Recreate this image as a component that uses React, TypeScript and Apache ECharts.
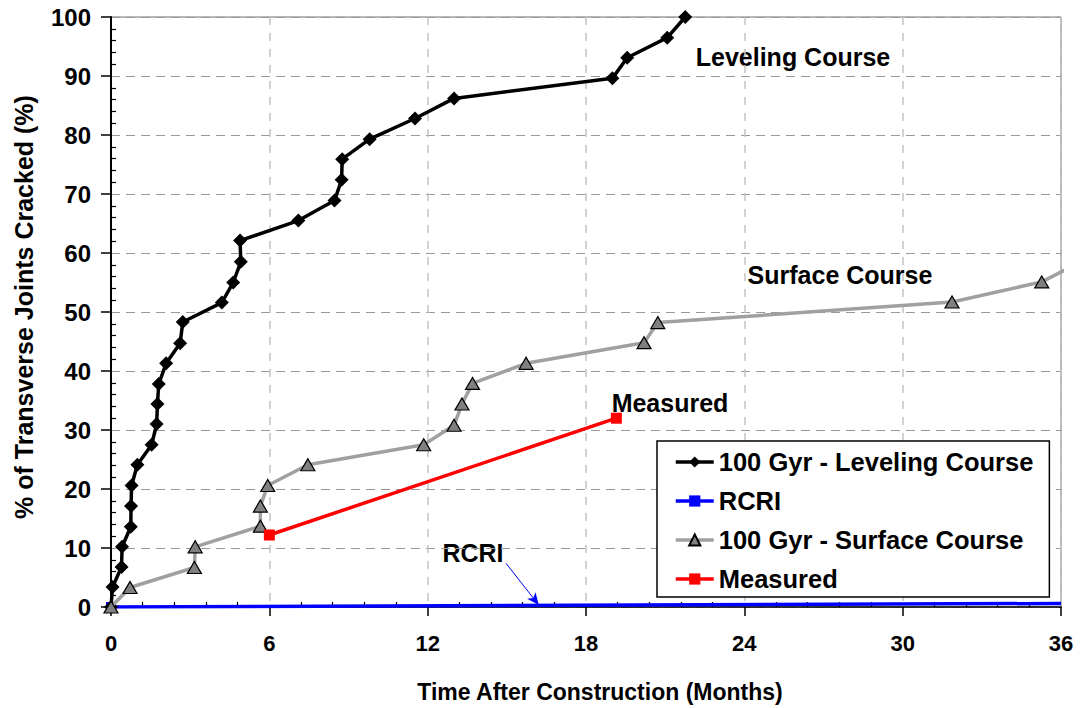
import React, { useEffect, useRef } from "react";
import * as echarts from "echarts";

// ---- data (months, % cracked) ----
const levelingX = [0, 0.06, 0.4, 0.42, 0.75, 0.76, 0.78, 1.0, 1.54, 1.73, 1.76, 1.81, 2.09, 2.62, 2.72, 4.2, 4.63, 4.92, 4.89, 7.1, 8.47, 8.74, 8.76, 9.8, 11.52, 13.0, 19.0, 19.56, 21.08, 21.76];
const levelingY = [0, 3.4, 6.8, 10.2, 13.6, 17.1, 20.6, 24.1, 27.5, 31.0, 34.4, 37.8, 41.3, 44.7, 48.3, 51.6, 55.0, 58.5, 62.1, 65.5, 68.9, 72.4, 75.9, 79.3, 82.8, 86.2, 89.6, 93.1, 96.5, 100];

const surfaceX = [0, 0.72, 3.16, 3.19, 5.66, 5.66, 5.94, 7.46, 11.85, 13.0, 13.3, 13.7, 15.73, 20.2, 20.72, 31.87, 35.27, 36.8];
const surfaceY = [0, 3.3, 6.7, 10.2, 13.7, 17.1, 20.6, 24.1, 27.5, 30.8, 34.4, 37.9, 41.3, 44.8, 48.2, 51.7, 55.1, 58.6];

const measuredX = [6, 19.15];
const measuredY = [12.2, 32.0];

const rcriX = [0, 36];
const rcriY = [0, 0.6];

// annotation arrow for RCRI (data coordinates)
const rcriArrowFrom = [14.97, 7.4];
const rcriArrowTo = [16.21, 0.34];

const seriesNames = ["100 Gyr - Leveling Course", "RCRI", "100 Gyr - Surface Course", "Measured"];

const xMin = 0, xMax = 36, xStep = 6;
const yMin = 0, yMax = 100, yStep = 10;

const zip = (xs: number[], ys: number[]) => xs.map((x, i) => [x, ys[i]]);

const FONT = "'Liberation Sans', Arial, sans-serif";

export default function App() {
  const ref = useRef<HTMLDivElement>(null);
  useEffect(() => {
    if (!ref.current) return;
    const chart = echarts.init(ref.current, null, { renderer: "svg" });
    const left = 111, top = 17, right = 19, bottom = 101;
    const option: any = {
      animation: false,
      backgroundColor: "#ffffff",
      grid: {
        left, top, right, bottom,
        show: true,
        borderColor: "#707070",
        borderWidth: 1,
        backgroundColor: "transparent",
      },
      xAxis: [
        {
          type: "value",
          position: "bottom",
          min: xMin, max: xMax, interval: xStep,
          axisLine: { show: true, onZero: false, lineStyle: { color: "#000", width: 1.5 } },
          axisTick: { show: true, inside: false, length: 9, lineStyle: { color: "#000", width: 1.5 } },
          axisLabel: { margin: 25, color: "#000", fontSize: 22, fontWeight: "bold", fontFamily: FONT },
          splitLine: { show: true, lineStyle: { color: "#c4c4c4", type: [8, 8], width: 1.5 } },
        },
        {
          type: "value",
          position: "bottom",
          min: xMin, max: xMax, interval: xStep,
          axisLine: { show: false, onZero: false },
          axisTick: { show: false, inside: true },
          minorTick: { show: true, splitNumber: 5, length: 5, lineStyle: { color: "#000", width: 1.2 } },
          axisLabel: { show: false },
          splitLine: { show: false },
        },
      ],
      yAxis: [
        {
          type: "value",
          position: "left",
          min: yMin, max: yMax, interval: yStep,
          axisLine: { show: true, onZero: false, lineStyle: { color: "#000", width: 2 } },
          axisTick: { show: true, inside: false, length: 10, lineStyle: { color: "#000", width: 1.5 } },
          axisLabel: { margin: 20, color: "#000", fontSize: 24, fontWeight: "bold", fontFamily: FONT },
          splitLine: { show: true, lineStyle: { color: "#999999", type: [9, 6], width: 1.2 } },
        },
        {
          type: "value",
          position: "left",
          min: yMin, max: yMax, interval: yStep,
          axisLine: { show: false, onZero: false },
          axisTick: { show: false, inside: true },
          minorTick: { show: true, splitNumber: 5, length: 5, lineStyle: { color: "#000", width: 1.2 } },
          axisLabel: { show: false },
          splitLine: { show: false },
        },
      ],
      legend: {
        orient: "vertical",
        left: 657,
        top: 441,
        padding: [8, 16, 5, 17],
        itemGap: 13,
        itemWidth: 38,
        itemHeight: 14,
        backgroundColor: "#ffffff",
        borderColor: "#000",
        borderWidth: 1.5,
        borderRadius: 0,
        data: seriesNames,
        lineStyle: { width: 3.5 },
        textStyle: { color: "#000", fontSize: 25.5, fontWeight: "bold", fontFamily: FONT, lineHeight: 25 },
      },
      series: [
        {
          name: seriesNames[0],
          type: "line",
          data: zip(levelingX, levelingY),
          symbol: "diamond",
          symbolSize: 14,
          itemStyle: { color: "#000" },
          lineStyle: { color: "#000", width: 3.5 },
          z: 4,
        },
        {
          name: seriesNames[1],
          type: "line",
          data: zip(rcriX, rcriY).map((p, i) => (i === 0 ? { value: p, symbol: "rect" } : { value: p, symbol: "none" })),
          symbol: "rect",
          symbolSize: 10,
          itemStyle: { color: "#0000ff" },
          lineStyle: { color: "#0000ff", width: 3.5 },
          z: 3,
          markLine: {
            silent: true,
            symbol: ["none", "arrow"],
            symbolSize: [8, 12],
            label: { show: false },
            lineStyle: { color: "#0000ff", width: 1, type: "solid" },
            data: [[{ coord: rcriArrowFrom }, { coord: rcriArrowTo }]],
          },
        },
        {
          name: seriesNames[2],
          type: "line",
          data: zip(surfaceX, surfaceY),
          symbol: "triangle",
          symbolSize: [14, 12],
          itemStyle: { color: "#808080", borderColor: "#000", borderWidth: 1.2 },
          lineStyle: { color: "#a0a0a0", width: 3.5 },
          z: 5,
        },
        {
          name: seriesNames[3],
          type: "line",
          data: zip(measuredX, measuredY),
          symbol: "rect",
          symbolSize: 11,
          itemStyle: { color: "#ff0000" },
          lineStyle: { color: "#ff0000", width: 3.5 },
          z: 6,
        },
      ],
      graphic: [
        {
          type: "text", x: 600, y: 692,
          style: { text: "Time After Construction (Months)", fill: "#000", font: `bold 23px ${FONT}`, align: "center", verticalAlign: "middle" },
        },
        {
          type: "text", x: 24, y: 307, rotation: Math.PI / 2,
          style: { text: "% of Transverse Joints Cracked (%)", fill: "#000", font: `bold 25px ${FONT}`, align: "center", verticalAlign: "middle" },
        },
        {
          type: "text", x: 793, y: 57,
          style: { text: "Leveling Course", fill: "#000", font: `bold 25px ${FONT}`, align: "center", verticalAlign: "middle" },
        },
        {
          type: "text", x: 840, y: 275,
          style: { text: "Surface Course", fill: "#000", font: `bold 25px ${FONT}`, align: "center", verticalAlign: "middle" },
        },
        {
          type: "text", x: 670, y: 403,
          style: { text: "Measured", fill: "#000", font: `bold 25px ${FONT}`, align: "center", verticalAlign: "middle" },
        },
        {
          type: "text", x: 473, y: 553,
          style: { text: "RCRI", fill: "#000", font: `bold 25px ${FONT}`, align: "center", verticalAlign: "middle" },
        },
      ],
    };
    chart.setOption(option);
    return () => chart.dispose();
  }, []);
  return (
    <div
      ref={ref}
      style={{ position: "fixed", left: 0, top: 0, width: 1080, height: 708, background: "#fff" }}
    />
  );
}
